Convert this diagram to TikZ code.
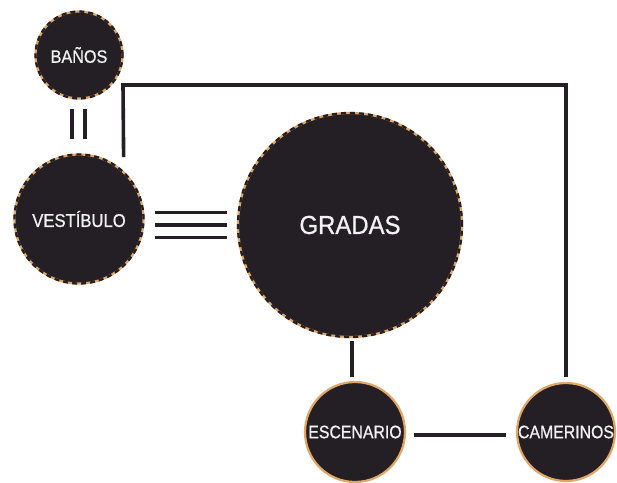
\documentclass[tikz,border=0pt]{standalone}
\usepackage{fontspec}
\setmainfont{Liberation Sans}[FakeBold=0.8]
\usetikzlibrary{calc}
\definecolor{dark}{HTML}{231F24}
\definecolor{rim}{HTML}{E2A767}
\definecolor{txt}{HTML}{F2F2F2}
\tikzset{
  room/.style={circle, inner sep=0pt, fill=dark, draw=rim, line width=2.2pt, text=txt},
  droom/.style={room, postaction={draw=dark, line width=2.3pt, dash pattern=on 5pt off 4pt}},
  conn/.style={draw=dark, line width=3.6pt},
}
\newcommand{\lbl}[3]{\fontsize{#1}{#1}\selectfont\scalebox{#2}[1]{#3}}
\begin{document}
\begin{tikzpicture}[x=1pt,y=-1pt]
\useasboundingbox (0,0) rectangle (617,482);
\node[droom, minimum size=87pt] (banos) at (79,55) {\lbl{18}{0.9}{BAÑOS}};
\node[droom, minimum size=129pt] (vest) at (79,219) {\lbl{18.5}{0.9}{VESTÍBULO}};
\node[droom, minimum size=224pt] (gradas) at (350,225) {\lbl{26}{0.92}{GRADAS}};
\node[room, minimum size=100pt] (esc) at (355,432) {\lbl{18}{0.88}{ESCENARIO}};
\node[room, minimum size=98pt] (cam) at (566,432) {\lbl{18}{0.88}{CAMERINOS}};
\coordinate (k1) at (123,85);
\coordinate (k2) at (566,85);
% BAÑOS - VESTÍBULO (double)
\draw[conn, shorten <=9pt, shorten >=14pt] ($(banos.south)+(-7,0)$) -- ($(vest.north)+(-7,0)$);
\draw[conn, shorten <=9pt, shorten >=14pt] ($(banos.south)+(6,0)$) -- ($(vest.north)+(6,0)$);
% VESTÍBULO - CAMERINOS
\draw[conn, shorten <=14pt, shorten >=5pt] (vest.47) -- (k1) -- (k2) -- (cam.north);
% VESTÍBULO - GRADAS (triple)
\foreach \dy in {-12.5,0,12.5}{
  \draw[conn, shorten <=10pt, shorten >=10pt] ($(vest.east |- gradas.west)+(0,\dy)$) -- ($(gradas.west)+(0,\dy)$);
}
% GRADAS - ESCENARIO
\draw[conn, shorten <=3pt, shorten >=4pt] ($(gradas.south)+(2,0)$) -- ($(gradas.south |- esc.north)+(2,0)$);
% ESCENARIO - CAMERINOS
\draw[conn, shorten <=8pt, shorten >=10pt] ($(esc.east)+(0,3)$) -- ($(cam.west)+(0,3)$);
\end{tikzpicture}
\end{document}
